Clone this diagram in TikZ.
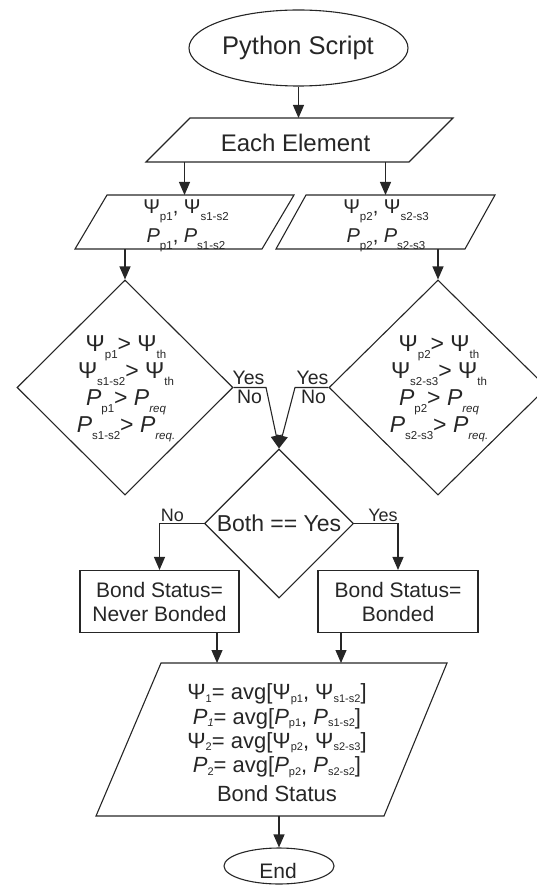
\documentclass[tikz,border=0pt]{standalone}
\usepackage{fontspec}
\setmainfont{Liberation Sans}
\usetikzlibrary{shapes.geometric,arrows.meta}
\definecolor{ink}{HTML}{262626}

% lowered subscripts (decision/input labels and the summary block)
\newcommand\dn[1]{\smash{\raisebox{-7pt}{\fontsize{11.5}{12}\selectfont #1}}}
\newcommand\dnb[1]{\smash{\raisebox{-2.5pt}{\fontsize{11}{12}\selectfont #1}}}
\newcommand\Pit{\textit{P}}
\newcommand\fs[2]{\fontsize{#1}{#2}\selectfont\lineskiplimit=-30pt\lineskip=0pt}

\begin{document}
\begin{tikzpicture}[x=1pt,y=-1pt,
  ln/.style={draw=ink,line width=1.1pt},
  arr/.style={draw=ink,line width=1.1pt,-{Triangle[length=13pt,width=11pt]}},
  txt/.style={text=ink,inner sep=0pt,align=center},
  frame/.style={inner sep=0pt,outer sep=0pt},
  ]
\path[use as bounding box] (0,0) rectangle (537,885);

% ---- start
\node[ln,ellipse,minimum width=219pt,minimum height=76pt,inner sep=0pt] (ps) at (298.5,48) {};
\node[txt,font=\fs{25.5}{28},anchor=base] (pst) at (298,55) {Python Script};

% ---- input: each element
\node[frame,minimum width=307pt,minimum height=44pt] (ee) at (299.5,140) {};
\draw[ln] (ee.south west) -- ([xshift=44pt]ee.north west) -- (ee.north east) -- ([xshift=-44pt]ee.south east) -- cycle;
\node[txt,font=\fs{24}{28},anchor=base] (eet) at (295.5,152) {Each Element};

% ---- the two data sets
\node[frame,minimum width=219pt,minimum height=54pt] (lp) at (184.5,222) {};
\draw[ln] (lp.south west) -- ([xshift=32pt]lp.north west) -- (lp.north east) -- ([xshift=-32pt]lp.south east) -- cycle;
\node[txt,font=\fs{20}{29}] (lpt) at (186,222) {Ψ\dn{p1}, Ψ\dn{s1-s2}\\ \Pit\dn{p1}, \Pit\dn{s1-s2}};

\node[frame,minimum width=219pt,minimum height=54pt] (rp) at (385.5,222) {};
\draw[ln] (rp.south west) -- ([xshift=30pt]rp.north west) -- (rp.north east) -- ([xshift=-30pt]rp.south east) -- cycle;
\node[txt,font=\fs{20}{29}] (rpt) at (386,222) {Ψ\dn{p2}, Ψ\dn{s2-s3}\\ \Pit\dn{p2}, \Pit\dn{s2-s3}};

% ---- threshold checks
\node[ln,diamond,minimum width=216pt,minimum height=215pt,inner sep=0pt] (ld) at (125,387.5) {};
\node[txt,font=\fs{23}{27}] (ldt) at (126,384) {Ψ\dn{p1}> Ψ\dn{th}\\ Ψ\dn{s1-s2}> Ψ\dn{th}\\ \Pit\dn{p1}> \Pit\dn{\itshape req}\\ \Pit\dn{s1-s2}> \Pit\dn{\itshape req.}};

\node[ln,diamond,minimum width=218pt,minimum height=215pt,inner sep=0pt] (rd) at (438,387.5) {};
\node[txt,font=\fs{23}{27}] (rdt) at (439,384) {Ψ\dn{p2}> Ψ\dn{th}\\ Ψ\dn{s2-s3}> Ψ\dn{th}\\ \Pit\dn{p2}> \Pit\dn{\itshape req}\\ \Pit\dn{s2-s3}> \Pit\dn{\itshape req.}};

% ---- combined decision
\node[ln,diamond,minimum width=149pt,minimum height=149pt,inner sep=0pt] (bd) at (279,523.5) {};
\node[txt,font=\fs{23}{27},anchor=base] (bdt) at (279,531.5) {Both == Yes};

% ---- bond status boxes
\node[ln,txt,minimum width=159pt,minimum height=62pt,font=\fs{21}{24}] (lb) at (159.5,601.5) {Bond Status=\\Never Bonded};
\node[ln,txt,minimum width=160pt,minimum height=62pt,font=\fs{21}{24}] (rb) at (398,601.5) {Bond Status=\\Bonded};

% ---- output block
\node[frame,minimum width=351pt,minimum height=153pt] (bp) at (271.5,739.5) {};
\draw[ln] (bp.south west) -- ([xshift=65pt]bp.north west) -- (bp.north east) -- ([xshift=-63pt]bp.south east) -- cycle;
\node[txt,font=\fs{22}{24.3}] (bpt) at (277,743) {Ψ\dnb{1}= avg[Ψ\dnb{p1}, Ψ\dnb{s1-s2}]\\
\Pit\dnb{\itshape 1}= avg[\Pit\dnb{p1}, \Pit\dnb{s1-s2}]\\
Ψ\dnb{2}= avg[Ψ\dnb{p2}, Ψ\dnb{s2-s3}]\\
\Pit\dnb{2}= avg[\Pit\dnb{p2}, \Pit\dnb{s2-s2}]\\[5pt]
Bond Status};

% ---- end
\node[ln,ellipse,minimum width=110pt,minimum height=36pt,inner sep=0pt] (en) at (279,866) {};
\node[txt,font=\fs{21}{24},anchor=base] (ent) at (278,878) {End};

% ---- connectors
\draw[arr] (ps.south) -- (ps.south |- ee.north);
\draw[arr] (lp.north |- ee.south) -- (lp.north);
\draw[arr] (rp.north |- ee.south) -- (rp.north);
\draw[arr] (ld.north |- lp.south) -- (ld.north);
\draw[arr] (rd.north |- rp.south) -- (rd.north);

\coordinate (lk) at (266,387.5);
\coordinate (rk) at (295,387.5);
\draw[arr] (ld.east) -- (lk) -- (bd.north);
\draw[arr] (rd.west) -- (rk) -- (bd.north);
\node[txt,font=\fs{19.5}{22},anchor=base] (lyes) at (248.5,384) {Yes};
\node[txt,font=\fs{19.5}{22},anchor=base] (lno) at (249.5,403) {No};
\node[txt,font=\fs{19.5}{22},anchor=base] (ryes) at (312.5,384) {Yes};
\node[txt,font=\fs{19.5}{22},anchor=base] (rno) at (313.5,403) {No};

\draw[arr] (bd.west) -- (lb.north |- bd.west) -- (lb.north);
\draw[arr] (bd.east) -- (rb.north |- bd.east) -- (rb.north);
\node[txt,font=\fs{18}{22},anchor=base] (bno) at (172.5,521.5) {No};
\node[txt,font=\fs{18}{22},anchor=base] (byes) at (383,521.5) {Yes};

\draw[arr] ([xshift=57.5pt]lb.south) -- ([xshift=57.5pt]lb.south |- bp.north);
\draw[arr] ([xshift=-57pt]rb.south) -- ([xshift=-57pt]rb.south |- bp.north);
\draw[arr] (en.north |- bp.south) -- (en.north);
\end{tikzpicture}
\end{document}
